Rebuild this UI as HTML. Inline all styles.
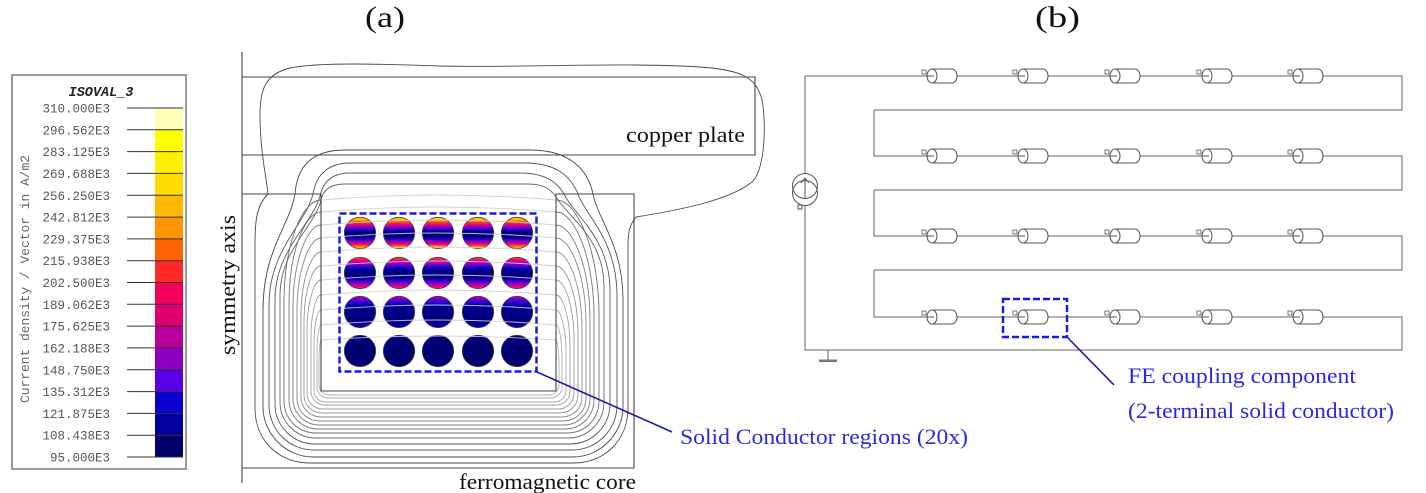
<!DOCTYPE html>
<html><head><meta charset="utf-8"><style>html,body{margin:0;padding:0;background:#fff;}svg{display:block}</style></head>
<body>
<svg width="1426" height="493" viewBox="0 0 1426 493" xmlns="http://www.w3.org/2000/svg">
<defs>
<linearGradient id="g1" x1="0" y1="0" x2="0" y2="1">
<stop offset="0" stop-color="#ffe000"/><stop offset="0.08" stop-color="#ffb000"/><stop offset="0.16" stop-color="#ff4020"/><stop offset="0.24" stop-color="#e0007a"/><stop offset="0.32" stop-color="#8000d0"/><stop offset="0.40" stop-color="#1800c8"/><stop offset="0.46" stop-color="#000084"/><stop offset="0.62" stop-color="#000076"/><stop offset="0.69" stop-color="#1a00c8"/><stop offset="0.77" stop-color="#8a00c4"/><stop offset="0.85" stop-color="#f0006a"/><stop offset="0.93" stop-color="#ff7a00"/><stop offset="1" stop-color="#ffcc00"/>
</linearGradient>
<linearGradient id="g2" x1="0" y1="0" x2="0" y2="1">
<stop offset="0" stop-color="#ff6020"/><stop offset="0.08" stop-color="#ff0060"/><stop offset="0.18" stop-color="#b000b0"/><stop offset="0.28" stop-color="#4000e0"/><stop offset="0.38" stop-color="#000094"/><stop offset="0.64" stop-color="#000078"/><stop offset="0.74" stop-color="#2800d8"/><stop offset="0.84" stop-color="#9800c0"/><stop offset="0.94" stop-color="#e8007a"/><stop offset="1" stop-color="#ff2a60"/>
</linearGradient>
<linearGradient id="g3" x1="0" y1="0" x2="0" y2="1">
<stop offset="0" stop-color="#c000a8"/><stop offset="0.10" stop-color="#7000d4"/><stop offset="0.22" stop-color="#1800d0"/><stop offset="0.34" stop-color="#000090"/><stop offset="0.75" stop-color="#000078"/><stop offset="0.9" stop-color="#0a00a8"/><stop offset="1" stop-color="#000080"/>
</linearGradient>
<linearGradient id="g4" x1="0" y1="0" x2="1" y2="1">
<stop offset="0" stop-color="#0000a8"/><stop offset="0.3" stop-color="#000074"/><stop offset="1" stop-color="#00006c"/>
</linearGradient>
<g id="c">
<path d="M0,-7 H20 A5,7 0 0 1 20,7 H0 Z" fill="#fff" stroke="#555" stroke-width="1"/>
<ellipse cx="0" cy="0" rx="5" ry="7" fill="#fff" stroke="#555" stroke-width="1"/>
<line x1="-5" y1="0" x2="2" y2="0" stroke="#555" stroke-width="1"/>
<rect x="-10" y="-6" width="4" height="4" fill="#fff" stroke="#555" stroke-width="0.8"/>
</g>
</defs>

<!-- ===== Legend ===== -->
<rect x="12" y="75" width="174" height="394" fill="#fff" stroke="#999" stroke-width="2"/>
<text x="101" y="96" font-family="Liberation Mono, monospace" font-size="13.5" font-weight="bold" font-style="italic" text-anchor="middle" fill="#222">ISOVAL_3</text>
<text transform="translate(29,279) rotate(-90)" font-family="Liberation Mono, monospace" font-size="12.5" text-anchor="middle" fill="#666" textLength="248" lengthAdjust="spacingAndGlyphs">Current density / Vector in A/m2</text>
<g>
<rect x="155" y="108" width="28" height="22" fill="#ffffb8"/>
<rect x="155" y="129.8" width="28" height="22" fill="#ffff00"/>
<rect x="155" y="151.6" width="28" height="22" fill="#fff000"/>
<rect x="155" y="173.4" width="28" height="22" fill="#ffdc00"/>
<rect x="155" y="195.3" width="28" height="22" fill="#ffb800"/>
<rect x="155" y="217.1" width="28" height="22" fill="#ff9400"/>
<rect x="155" y="238.9" width="28" height="22" fill="#ff6400"/>
<rect x="155" y="260.7" width="28" height="22" fill="#ff2828"/>
<rect x="155" y="282.5" width="28" height="22" fill="#f5005a"/>
<rect x="155" y="304.3" width="28" height="22" fill="#dc0070"/>
<rect x="155" y="326.1" width="28" height="22" fill="#b8009a"/>
<rect x="155" y="347.9" width="28" height="22" fill="#9000c0"/>
<rect x="155" y="369.8" width="28" height="22" fill="#5a00e8"/>
<rect x="155" y="391.6" width="28" height="22" fill="#0a00d2"/>
<rect x="155" y="413.4" width="28" height="22" fill="#00009e"/>
<rect x="155" y="435.2" width="28" height="21.8" fill="#000068"/>
</g>
<g stroke="#333" stroke-width="1">
<line x1="127" y1="108" x2="183" y2="108"/><line x1="127" y1="129.8" x2="183" y2="129.8"/><line x1="127" y1="151.6" x2="183" y2="151.6"/><line x1="127" y1="173.4" x2="183" y2="173.4"/><line x1="127" y1="195.3" x2="183" y2="195.3"/><line x1="127" y1="217.1" x2="183" y2="217.1"/><line x1="127" y1="238.9" x2="183" y2="238.9"/><line x1="127" y1="260.7" x2="183" y2="260.7"/><line x1="127" y1="282.5" x2="183" y2="282.5"/><line x1="127" y1="304.3" x2="183" y2="304.3"/><line x1="127" y1="326.1" x2="183" y2="326.1"/><line x1="127" y1="347.9" x2="183" y2="347.9"/><line x1="127" y1="369.8" x2="183" y2="369.8"/><line x1="127" y1="391.6" x2="183" y2="391.6"/><line x1="127" y1="413.4" x2="183" y2="413.4"/><line x1="127" y1="435.2" x2="183" y2="435.2"/><line x1="127" y1="457" x2="183" y2="457"/>
</g>
<g font-family="Liberation Mono, monospace" font-size="12.5" text-anchor="end" fill="#555">
<text x="110" y="112.5">310.000E3</text><text x="110" y="134.3">296.562E3</text><text x="110" y="156.1">283.125E3</text><text x="110" y="177.9">269.688E3</text><text x="110" y="199.8">256.250E3</text><text x="110" y="221.6">242.812E3</text><text x="110" y="243.4">229.375E3</text><text x="110" y="265.2">215.938E3</text><text x="110" y="287">202.500E3</text><text x="110" y="308.8">189.062E3</text><text x="110" y="330.6">175.625E3</text><text x="110" y="352.4">162.188E3</text><text x="110" y="374.3">148.750E3</text><text x="110" y="396.1">135.312E3</text><text x="110" y="417.9">121.875E3</text><text x="110" y="439.7">108.438E3</text><text x="110" y="461.5">95.000E3</text>
</g>

<!-- ===== Titles ===== -->
<text x="365" y="27" font-family="Liberation Serif, serif" font-size="30" fill="#111" textLength="40" lengthAdjust="spacingAndGlyphs">(a)</text>
<text x="1035" y="27" font-family="Liberation Serif, serif" font-size="30" fill="#111" textLength="45" lengthAdjust="spacingAndGlyphs">(b)</text>

<!-- ===== Panel (a): field lines ===== -->
<g fill="none" stroke-width="0.9">
<path stroke="#4a4a4a" d="M 268,194 C 256,206 255,222 255,245 L 255,408 C 255,440 278,463 310,463 L 573,463 C 605,463 628,440 628,408 L 628,245 C 628,232 630,224 636,217 C 680,210 730,200 752,182 C 766,168 766,120 762,100 C 756,76 740,70 700,67 C 620,62 520,68 440,66 C 380,64 320,62 290,68 C 265,74 260,90 260,115 C 260,150 266,175 268,194 Z"/>
<path stroke="#4a4a4a" d="M 295,194 C 290,225 263,250 263,310 L 263,407 C 263,434 286,457 313,457 L 573,457 C 600,457 623,434 623,407 L 623,300 C 623,245 598,220 593,194 C 588,170 570,150 530,150 L 345,150 C 310,150 297,168 295,194 Z"/>
<path stroke="#555" d="M 313,194 C 305,225 269,250 269,305 L 269,405 C 269,430 289,450 314,450 L 572,450 C 597,450 617,430 617,405 L 617,295 C 617,240 585,215 578,194 C 570,175 555,163 525,163 L 350,163 C 328,163 316,175 313,194 Z"/>
<path stroke="#5a5a5a" d="M 320,196 C 312,225 275,250 275,300 L 275,404 C 275,426 293,444 315,444 L 570,444 C 592,444 610,426 610,404 L 610,290 C 610,240 575,215 565,196 C 558,182 545,173 520,173 L 350,173 C 332,173 323,182 320,196 Z"/>
<path stroke="#666" d="M 321,200 C 314,228 280,250 280,296 L 280,402 C 280,422 296,438 316,438 L 568,438 C 588,438 604,422 604,402 L 604,286 C 604,240 570,218 558,200 C 552,190 545,184 528,184 L 345,184 C 330,184 323,190 321,200 Z"/>
<path stroke="#6e6e6e" d="M 321,200 C 302,200 284,245 284,301 L 284,401 C 284,419 298,433 316,433 L 567,433 C 585,433 599,419 599,401 L 599,315 C 599,252 578,200 556,200"/>
<path stroke="#767676" d="M 321,212 C 305,212 289,252 289,302 L 289,400 C 289,416 302,429 318,429 L 565,429 C 581,429 594,416 594,400 L 594,316 C 594,259 575,212 556,212"/>
<path stroke="#7e7e7e" d="M 321,225 C 307,225 293,262 293,307 L 293,399 C 293,413 305,425 319,425 L 564,425 C 578,425 590,413 590,399 L 590,320 C 590,268 573,225 556,225"/>
<path stroke="#868686" d="M 321,238 C 309,238 297,271 297,311 L 297,398 C 297,411 307,421 320,421 L 563,421 C 576,421 586,411 586,398 L 586,324 C 586,277 571,238 556,238"/>
<path stroke="#8e8e8e" d="M 321,252 C 311,252 301,281 301,316 L 301,397 C 301,408 310,417 321,417 L 562,417 C 573,417 582,408 582,397 L 582,329 C 582,287 569,252 556,252"/>
<path stroke="#969696" d="M 321,266 C 312,266 304,292 304,323 L 304,395 C 304,405 312,413 322,413 L 560,413 C 570,413 578,405 578,395 L 578,334 C 578,297 567,266 556,266"/>
<path stroke="#9c9c9c" d="M 321,280 C 314,280 307,303 307,331 L 307,393 C 307,402 314,409 323,409 L 558,409 C 567,409 574,402 574,393 L 574,340 C 574,307 565,280 556,280"/>
<path stroke="#a2a2a2" d="M 321,295 C 316,295 311,314 311,337 L 311,391 C 311,399 317,405 325,405 L 556,405 C 564,405 570,399 570,391 L 570,346 C 570,318 563,295 556,295"/>
<path stroke="#a8a8a8" d="M 321,310 C 317,310 314,326 314,345 L 314,390 C 314,397 319,402 326,402 L 554,402 C 561,402 566,397 566,390 L 566,352 C 566,329 561,310 556,310"/>
<path stroke="#aeaeae" d="M 321,325 C 319,325 317,338 317,354 L 317,387 C 317,393 322,398 328,398 L 551,398 C 557,398 562,393 562,387 L 562,358 C 562,340 559,325 556,325"/>
<path stroke="#b4b4b4" d="M 321,340 C 320,340 319,351 319,364 L 319,385 C 319,390.5 323.5,395 329,395 L 549,395 C 554.5,395 559,390.5 559,385 L 559,367 C 559,352 557.5,340 556,340"/>
</g>

<!-- conductors -->
<g stroke="#444" stroke-width="0.8">
<circle cx="360" cy="233" r="15.7" fill="url(#g1)"/><circle cx="399" cy="233" r="15.7" fill="url(#g1)"/><circle cx="438" cy="233" r="15.7" fill="url(#g1)"/><circle cx="478" cy="233" r="15.7" fill="url(#g1)"/><circle cx="517" cy="233" r="15.7" fill="url(#g1)"/>
<circle cx="360" cy="273" r="15.7" fill="url(#g2)"/><circle cx="399" cy="273" r="15.7" fill="url(#g2)"/><circle cx="438" cy="273" r="15.7" fill="url(#g2)"/><circle cx="478" cy="273" r="15.7" fill="url(#g2)"/><circle cx="517" cy="273" r="15.7" fill="url(#g2)"/>
<circle cx="360" cy="312" r="15.7" fill="url(#g3)"/><circle cx="399" cy="312" r="15.7" fill="url(#g3)"/><circle cx="438" cy="312" r="15.7" fill="url(#g3)"/><circle cx="478" cy="312" r="15.7" fill="url(#g3)"/><circle cx="517" cy="312" r="15.7" fill="url(#g3)"/>
<circle cx="360" cy="351" r="15.7" fill="url(#g4)"/><circle cx="399" cy="351" r="15.7" fill="url(#g4)"/><circle cx="438" cy="351" r="15.7" fill="url(#g4)"/><circle cx="478" cy="351" r="15.7" fill="url(#g4)"/><circle cx="517" cy="351" r="15.7" fill="url(#g4)"/>
</g>

<!-- window crossing field lines -->
<g fill="none" stroke="#cfcfcf" stroke-width="0.9" opacity="0.9">
<path d="M 321,200 Q 438,190 556,200"/>
<path d="M 321,212 Q 438,202 556,212"/>
<path d="M 321,225 Q 438,215 556,225"/>
<path d="M 321,238 Q 438,228 556,238"/>
<path d="M 321,252 Q 438,242 556,252"/>
<path d="M 321,266 Q 438,256 556,266"/>
<path d="M 321,280 Q 438,270 556,280"/>
<path d="M 321,295 Q 438,285 556,295"/>
<path d="M 321,310 Q 438,300 556,310"/>
<path d="M 321,325 Q 438,315 556,325"/>
<path d="M 321,340 Q 438,332 556,340"/>
</g>

<!-- geometry outlines -->
<line x1="242" y1="52" x2="242" y2="483" stroke="#777" stroke-width="1.5"/>
<path d="M 242,77 H 755 V 155 H 242" fill="none" stroke="#444" stroke-width="1.1"/>
<path d="M 242,194 H 321 V 391 H 556 V 194 H 634 V 468 H 242" fill="none" stroke="#444" stroke-width="1.1"/>

<!-- dashed selection (a) -->
<rect x="339.5" y="213.5" width="197" height="158" fill="none" stroke="#1a1ae0" stroke-width="2.5" stroke-dasharray="7 3"/>
<line x1="537" y1="372" x2="672" y2="432" stroke="#1a1ab8" stroke-width="1.6"/>

<!-- labels (a) -->
<g font-family="Liberation Serif, serif" font-size="22" fill="#111">
<text x="626" y="142" textLength="119" lengthAdjust="spacingAndGlyphs">copper plate</text>
<text x="459" y="489" textLength="177" lengthAdjust="spacingAndGlyphs">ferromagnetic core</text>
<text transform="translate(235,285) rotate(-90)" text-anchor="middle" textLength="140" lengthAdjust="spacingAndGlyphs">symmetry axis</text>
</g>
<text x="680" y="444" font-family="Liberation Serif, serif" font-size="22" fill="#2a2ae0" textLength="288" lengthAdjust="spacingAndGlyphs">Solid Conductor regions (20x)</text>

<!-- ===== Panel (b): circuit ===== -->
<path d="M 805,76 H 1402 V 110 H 874 V 156 H 1402 V 190 H 874 V 236 H 1402 V 270 H 874 V 317 H 1402 V 350 H 805 V 205.5 M 805,173.5 V 76" fill="none" stroke="#666" stroke-width="1"/>
<g>
<use href="#c" x="932" y="76"/><use href="#c" x="1023" y="76"/><use href="#c" x="1115" y="76"/><use href="#c" x="1207" y="76"/><use href="#c" x="1298" y="76"/>
<use href="#c" x="932" y="156"/><use href="#c" x="1023" y="156"/><use href="#c" x="1115" y="156"/><use href="#c" x="1207" y="156"/><use href="#c" x="1298" y="156"/>
<use href="#c" x="932" y="236"/><use href="#c" x="1023" y="236"/><use href="#c" x="1115" y="236"/><use href="#c" x="1207" y="236"/><use href="#c" x="1298" y="236"/>
<use href="#c" x="932" y="317"/><use href="#c" x="1023" y="317"/><use href="#c" x="1115" y="317"/><use href="#c" x="1207" y="317"/><use href="#c" x="1298" y="317"/>
</g>
<!-- current source -->
<g fill="none" stroke="#555" stroke-width="1">
<circle cx="805" cy="186" r="12.5"/>
<circle cx="805" cy="193" r="12.5"/>
<line x1="805" y1="198" x2="805" y2="179"/>
<path d="M 801,183 L 805,178 L 809,183"/>
<rect x="798" y="205" width="4" height="4" fill="#fff"/>
</g>
<!-- ground -->
<line x1="828" y1="350" x2="828" y2="360" stroke="#777" stroke-width="1.2"/>
<rect x="819" y="359.5" width="18" height="2.6" fill="#777"/>

<!-- dashed selection (b) -->
<rect x="1003" y="299" width="64" height="38" fill="none" stroke="#1a1ae0" stroke-width="2.5" stroke-dasharray="7 3"/>
<line x1="1067" y1="337" x2="1114" y2="385" stroke="#1a1ab8" stroke-width="1.6"/>
<g font-family="Liberation Serif, serif" font-size="22" fill="#2a2ae0">
<text x="1128" y="383" textLength="228" lengthAdjust="spacingAndGlyphs">FE coupling component</text>
<text x="1128" y="418" textLength="266" lengthAdjust="spacingAndGlyphs">(2-terminal solid conductor)</text>
</g>
</svg>
</body></html>
